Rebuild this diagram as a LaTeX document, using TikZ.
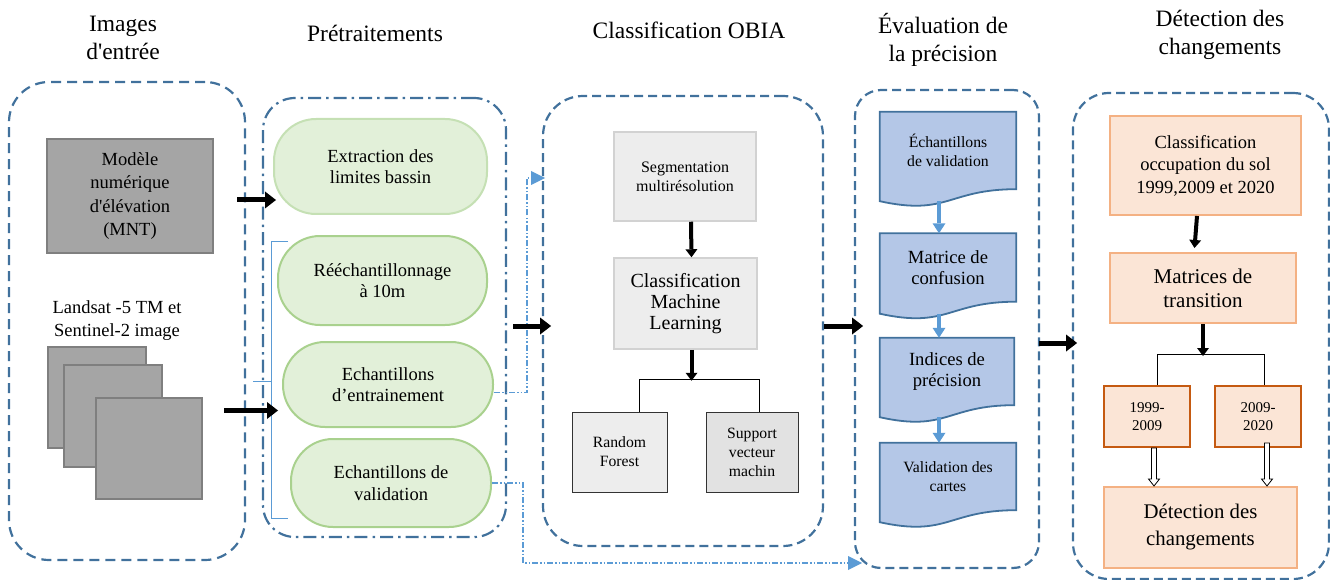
\documentclass[tikz,border=0pt]{standalone}
\usepackage{fontspec}
\setmainfont{Liberation Serif}[Ligatures=TeXOff]
\usetikzlibrary{arrows.meta,calc,backgrounds}
\definecolor{pblue}{RGB}{65,113,156}
\definecolor{lblue}{RGB}{91,155,213}
\definecolor{gfill}{RGB}{226,240,217}
\definecolor{gline}{RGB}{169,209,142}
\definecolor{gline1}{RGB}{197,224,180}
\definecolor{grfill}{RGB}{165,165,165}
\definecolor{grline}{RGB}{127,127,127}
\definecolor{docfill}{RGB}{180,199,231}
\definecolor{ofill}{RGB}{251,229,214}
\definecolor{oline}{RGB}{244,177,131}
\definecolor{oline2}{RGB}{197,90,17}
\definecolor{sfill}{RGB}{237,237,237}
\definecolor{sline}{RGB}{210,210,210}
\definecolor{svfill}{RGB}{226,226,226}
\newcommand\docshape[1]{\draw[docst] (#1.north west) -- (#1.north east) -- (#1.south east) .. controls (#1.south) and ([yshift=-27pt]#1.south) .. ([yshift=-12pt]#1.south west) -- cycle;}
\newcommand\hollowarr[2]{\draw[black, line width=0.8pt, fill=white] let \p1=(#1), \p2=(#2) in (\x1-2.5pt,\y1) -- (\x1-2.5pt,\y2+7pt) -- (\x1-5.5pt,\y2+7pt) -- (\x1,\y2) -- (\x1+5.5pt,\y2+7pt) -- (\x1+2.5pt,\y2+7pt) -- (\x1+2.5pt,\y1) -- cycle;}
\begin{document}
\begin{tikzpicture}[x=1pt,y=-1pt,
  sz/.style 2 args={minimum width=#1pt, minimum height=#2pt},
  fs/.style 2 args={font=\fontsize{#1}{#2}\selectfont},
  panel/.style={draw=pblue, line width=2.2pt, dash pattern=on 9pt off 5pt, rounded corners=36pt, inner sep=0pt},
  panelb/.style={draw=pblue, line width=2.2pt, dash pattern=on 13pt off 5pt on 2.5pt off 5pt, rounded corners=32pt, inner sep=0pt},
  title/.style={align=center, inner sep=0pt, fs={23.5}{28}},
  txt/.style={align=center, inner sep=0pt},
  grayb/.style={draw=grline, fill=grfill, line width=2pt, align=center, inner sep=0pt, fs={18.5}{23.5}},
  stad/.style={draw=gline, fill=gfill, line width=2pt, rounded corners=42pt, align=center, inner sep=0pt, fs={18.5}{21.5}},
  sbox/.style={draw=sline, fill=sfill, line width=1.5pt, align=center, inner sep=0pt},
  cbox/.style={draw=black!80, fill=sfill, line width=1pt, align=center, inner sep=0pt, fs={15.7}{19}},
  docn/.style={align=center, inner sep=0pt},
  docst/.style={draw=pblue, fill=docfill, line width=1.8pt},
  obox/.style={draw=oline, fill=ofill, line width=2pt, align=center, inner sep=0pt},
  ybox/.style={draw=oline2, fill=ofill, line width=2pt, align=center, inner sep=0pt, fs={15}{18.3}},
  conn/.style={draw=lblue, line width=1.2pt, dash pattern=on 6pt off 2pt on 1.5pt off 2pt on 1.5pt off 2pt, -{Triangle[length=14pt,width=14pt,line width=0pt]}},
  blk/.style={draw=black, line width=5pt, -{Triangle[length=11pt,width=17pt,line width=0pt]}},
  blkv/.style={draw=black, line width=4pt, -{Triangle[length=8pt,width=12pt,line width=0pt]}},
  barr/.style={draw=lblue, line width=3.5pt, -{Triangle[length=10pt,width=13pt,line width=0pt]}},
  treeline/.style={draw=black, line width=1pt},
  bracel/.style={draw=lblue, line width=1pt}
]
\useasboundingbox (0,0) rectangle (1330,580);

% panels
\node[panel, dash pattern=on 10pt off 6pt, rounded corners=40pt, sz={236}{478}] (p1) at (127,321) {};
\node[panelb, sz={243}{439}] (p2) at (384.5,317.5) {};
\node[panel, rounded corners=40pt, sz={280}{450}] (p3) at (683,321) {};
\node[panel, rounded corners=26pt, sz={184}{478}] (p4) at (947,329) {};
\node[panel, rounded corners=36pt, sz={256}{486}] (p5) at (1201,336) {};

% titles (base = last line)
\node[title, anchor=base] (t1) at (123,60) {Images\\d'entrée};
\node[title, anchor=base] (t2) at (375,42) {Prétraitements};
\node[title, anchor=base] (t3) at (689,39) {Classification OBIA};
\node[title, anchor=base] (t4) at (943,62) {Évaluation de\\la précision};
\node[title, anchor=base] (t5) at (1220,55) {Détection des\\changements};

% panel 1
\node[grayb, sz={166}{114}] (mnt) at (130,196) {Modèle\\numérique\\d'élévation\\(MNT)};
\node[txt, fs={18.5}{23}] (ls) at (117,321) {Landsat -5 TM et\\Sentinel-2 image};
\node[grayb, sz={98}{101}] (sq1) at (97,397.5) {};
\node[grayb, sz={98}{102}] (sq2) at (113,416) {};
\node[grayb, sz={106}{101}] (sq3) at (149,448.5) {};

% panel 2
\node[stad, draw=gline1, sz={213}{95}] (s1) at (380.5,166.5) {Extraction des\\limites bassin};
\node[stad, sz={209}{89}] (s2) at (382.5,280.5) {Rééchantillonnage\\à 10m};
\node[stad, sz={210}{85}] (s3) at (388,384.5) {Echantillons\\d’entrainement};
\node[stad, sz={200}{88}] (s4) at (391,483) {Echantillons de\\validation};
\coordinate (b1) at (288,241);
\coordinate (b2) at (288,518);
\coordinate (bm) at (253,381);
\draw[bracel] (b1) -- (271,241) -- (271,518) -- (b2);
\draw[bracel] (bm) -- (271,381);

% panel 3
\node[sbox, sz={142}{89}, fs={16}{19.3}] (seg) at (685,176.5) {Segmentation\\multirésolution};
\node[sbox, sz={143}{91}, fs={20}{21}] (ml) at (685.5,303.5) {Classification\\Machine\\Learning};
\node[cbox, sz={95}{80}] (rf) at (619.5,452) {Random\\Forest};
\node[cbox, fill=svfill, sz={92}{80}] (svm) at (752,452) {Support\\vecteur\\machin};
\draw[blkv] ([xshift=6pt]seg.south) -- ([xshift=6pt]ml.north);
\draw[blkv] ([xshift=6pt]ml.south) -- ++(0,31);
\draw[treeline] ([xshift=19.5pt]rf.north) -- ++(0,-32) -| ([xshift=7pt]svm.north);

% panel 4
\node[docn, sz={136}{77}, fs={15.7}{19.3}] (d1) at (948,150.5) {Échantillons\\de validation};
\node[docn, sz={136}{68}, fs={18.6}{21.3}] (d2) at (948,267.5) {Matrice de\\confusion};
\node[docn, sz={134}{67}, fs={18.6}{21.3}] (d3) at (947,371.5) {Indices de\\précision};
\node[docn, sz={136}{67}, fs={15.7}{19.3}] (d4) at (948,476.5) {Validation des\\cartes};
\begin{pgfonlayer}{background}
\docshape{d1}
\docshape{d2}
\docshape{d3}
\docshape{d4}
\end{pgfonlayer}
\draw[barr] ([xshift=-9pt,yshift=-12pt]d1.south) -- ([xshift=-9pt]d2.north);
\draw[barr] ([xshift=-9pt,yshift=-12pt]d2.south) -- ([xshift=-8pt]d3.north);
\draw[barr] ([xshift=-8pt,yshift=-12pt]d3.south) -- ([xshift=-9pt]d4.north);

% panel 5
\node[obox, sz={191}{99}, fs={18.5}{22.5}] (o1) at (1205.5,165.5) {Classification\\occupation du sol\\1999,2009 et 2020};
\node[obox, sz={186}{70}, fs={21}{24.3}] (o2) at (1203,288) {Matrices de\\transition};
\node[ybox, sz={86}{61}] (y1) at (1147,416.5) {1999-\\2009};
\node[ybox, sz={86}{61}] (y2) at (1258,416.5) {2009-\\2020};
\node[obox, sz={193}{81}, fs={20.8}{27}] (det) at (1200.5,527.5) {Détection des\\changements};
\draw[blkv] ([xshift=-8.5pt]o1.south) -- ([xshift=-8.5pt,yshift=4pt]o2.north);
\draw[blkv] (o2.south) -- ++(0,32);
\draw[treeline] ([xshift=10pt]y1.north) -- ++(0,-31) -| ([xshift=6pt]y2.north);
\hollowarr{[xshift=7pt]y1.south}{[xshift=7pt]det.north}
\hollowarr{[xshift=9pt,yshift=5pt]y2.south}{[xshift=9pt]det.north}

% connectors
\coordinate (c1) at (545,178);
\coordinate (c2) at (862,563);
\draw[conn] ($(s3.east)+(0,8)$) -- ++(33,0) |- (c1);
\draw[conn] (s4.east) -- ++(31,0) |- (c2);

\draw[blk] ($(mnt.east)+(23,4)$) -- ++(39,0);
\draw[blk] ($(sq3.east)+(21,-38)$) -- ++(54,0);
\draw[blk] ($(p2.east)+(6,8.5)$) -- ++(38,0);
\draw[blk] ($(p3.east)+(0,5)$) -- ++(39,0);
\draw[blk] ($(p4.east)+(-1,14)$) -- ++(38,0);
\end{tikzpicture}
\end{document}
